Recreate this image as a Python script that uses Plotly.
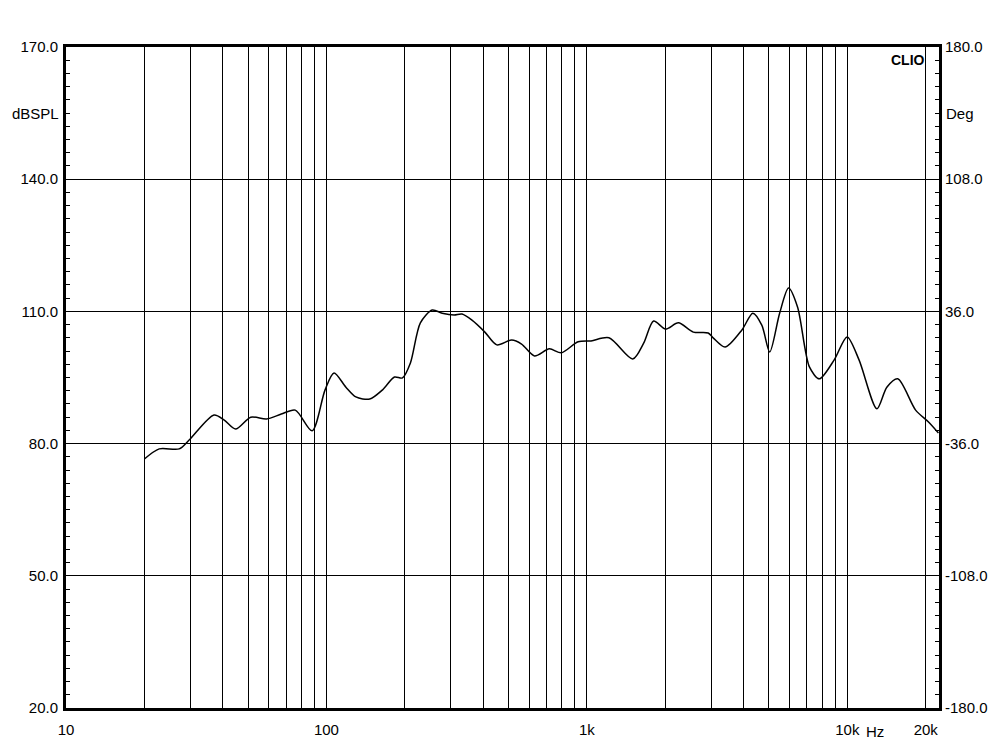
import plotly.graph_objects as go

# Frequency response (Hz, dBSPL)
freq_hz = [20, 22.8, 27.2, 29.7, 37.0, 40.4, 44.8, 51.2, 58.9, 67.1, 75.9, 88.1, 98.8,
           106.9, 118.8, 129.7, 146.6, 164.3, 182.5, 195.8, 210.1, 229.4, 254.8, 278.2,
           309.1, 331.6, 362.1, 405.8, 450.9, 514.2, 561.4, 629.3, 717.7, 797.6, 925.8,
           1037.5, 1215, 1500, 1652, 1804, 2004, 2246, 2562, 2922, 3053, 3393, 3938,
           4337, 4694, 5035, 5497, 5948, 6439, 7152, 7806, 8905, 9982, 11090, 12990,
           14180, 15620, 18290, 20500, 22380]
spl_db = [76.5, 78.8, 78.8, 80.8, 86.5, 85.4, 83.3, 86.0, 85.6, 86.7, 87.6, 82.9, 92.2,
          96.0, 92.8, 90.6, 90.1, 92.2, 95.1, 94.9, 98.3, 107.4, 110.3, 109.6,
          109.2, 109.4, 108.0, 105.3, 102.4, 103.5, 102.6, 99.9, 101.5, 100.6, 103.1,
          103.3, 104.0, 99.2, 102.8, 107.8, 106.0, 107.4, 105.3, 105.1, 104.0, 101.9, 105.8,
          109.6, 106.9, 100.8, 109.6, 115.3, 111.0, 97.4, 94.7, 99.0, 104.2, 99.0, 87.9,
          92.8, 94.7, 87.6, 84.9, 82.4]

# Axis ticks
x_grid = [10, 20, 30, 40, 50, 60, 70, 80, 90,
          100, 200, 300, 400, 500, 600, 700, 800, 900,
          1000, 2000, 3000, 4000, 5000, 6000, 7000, 8000, 9000,
          10000, 20000]
x_labels = {10: "10", 100: "100", 1000: "1k", 10000: "10k", 20000: "20k"}
y_left_ticks = [20, 50, 80, 110, 140, 170]
y_right_ticks = [-180, -108, -36, 36, 108, 180]

FONT = "Liberation Sans, Arial, sans-serif"

fig = go.Figure()
fig.add_trace(go.Scatter(
    x=freq_hz, y=spl_db, mode="lines",
    line=dict(color="black", width=1.5, shape="spline", smoothing=0.8),
    hoverinfo="skip", showlegend=False))
fig.add_trace(go.Scatter(x=[1000, 1000], y=[None, None], yaxis="y2",
                         mode="lines", showlegend=False, hoverinfo="skip"))

fig.update_layout(
    width=992, height=743,
    margin=dict(l=53, r=59, t=39, b=43),
    paper_bgcolor="white", plot_bgcolor="white",
    font=dict(family=FONT, size=15, color="black"),
    xaxis=dict(
        type="log", range=[1, 4.352],
        tickmode="array", tickvals=x_grid,
        ticktext=[x_labels.get(v, "") for v in x_grid],
        showgrid=True, gridcolor="black", gridwidth=1,
        showline=True, linecolor="black", linewidth=3, mirror=True,
        ticks="outside", ticklen=6, tickcolor="rgba(0,0,0,0)",
        zeroline=False,
    ),
    yaxis=dict(
        range=[20, 170],
        tickmode="array", tickvals=y_left_ticks,
        ticktext=[f"{v:.1f}" for v in y_left_ticks],
        showgrid=True, gridcolor="black", gridwidth=1,
        showline=True, linecolor="black", linewidth=3, mirror="allticks",
        ticks="inside", ticklen=4, tickcolor="black",
        ticklabelstandoff=2,
        minor=dict(tickmode="linear", tick0=20, dtick=3, ticks="inside",
                   ticklen=4, tickcolor="black", showgrid=False),
        zeroline=False,
    ),
    yaxis2=dict(
        range=[-180, 180], overlaying="y", side="right",
        tickmode="array", tickvals=y_right_ticks,
        ticktext=[f"{v:.1f}" for v in y_right_ticks],
        showgrid=False, showline=False, ticks="",
        ticklabelstandoff=5,
        zeroline=False,
    ),
    annotations=[
        dict(text="dBSPL", xref="paper", yref="y", x=0, y=155, xanchor="right",
             xshift=-5, showarrow=False, font=dict(family=FONT, size=15)),
        dict(text="Deg", xref="paper", yref="y", x=1, y=155, xanchor="left",
             xshift=5, showarrow=False, font=dict(family=FONT, size=15)),
        dict(text="<b>CLIO</b>", xref="paper", yref="y", x=1, y=167, xanchor="right",
             xshift=-12, showarrow=False, font=dict(family=FONT, size=14)),
        dict(text="Hz", xref="x", yref="paper", x=4.107, y=0, yanchor="top",
             yshift=-13, showarrow=False, font=dict(family=FONT, size=15)),
    ],
)

fig.write_html("out.html")
